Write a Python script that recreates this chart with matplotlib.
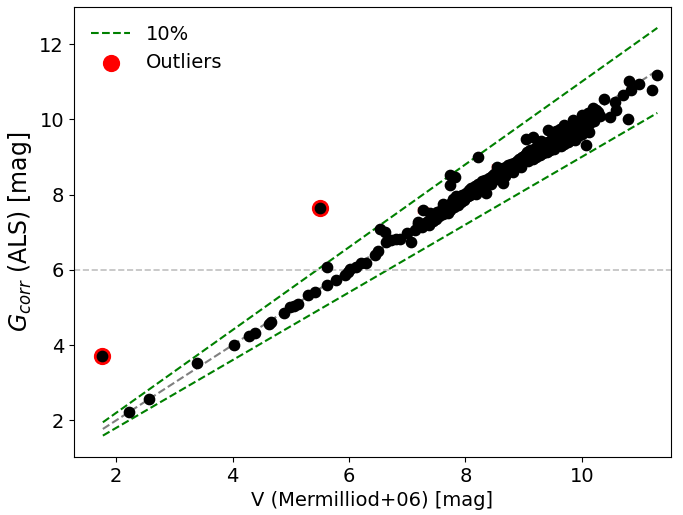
import numpy as np
from matplotlib import pyplot as plt

# V from Mermilliod+06 vs corrected Gaia G (ALS)
v_mag = [2.22, 2.56, 3.38, 4.03, 4.28, 4.38, 4.62, 4.66, 4.88, 4.99, 5.05, 5.12, 5.30, 5.42,
         5.62, 5.62, 5.77, 5.93, 5.98, 6.02, 6.12, 6.21, 6.29, 6.44, 6.50, 6.53, 6.62, 6.63,
         6.73, 6.80, 6.87, 6.99, 7.07, 7.13, 7.19, 7.19,
         7.25, 7.30, 7.35, 7.38, 7.42, 7.45, 7.48, 7.50, 7.52, 7.55, 7.58, 7.60, 7.62, 7.65,
         7.68, 7.70, 7.72, 7.74, 7.76, 7.78, 7.80, 7.82, 7.85, 7.88, 7.90, 7.92, 7.95, 7.97,
         7.99, 7.73, 7.82, 7.73, 8.21, 7.40, 7.62, 7.84,
         8.02, 8.04, 8.06, 8.08, 8.10, 8.12, 8.14, 8.16, 8.18, 8.20, 8.22, 8.24, 8.26, 8.28,
         8.30, 8.32, 8.34, 8.36, 8.38, 8.40, 8.42, 8.44, 8.46, 8.48, 8.50, 8.52, 8.54, 8.56,
         8.58, 8.60, 8.62, 8.64, 8.65, 8.66, 8.68, 8.70, 8.72, 8.74, 8.76, 8.78, 8.80, 8.82,
         8.84, 8.86, 8.88, 8.90, 8.92, 8.94, 8.96, 8.98,
         9.00, 9.02, 9.04, 9.05, 9.06, 9.08, 9.10, 9.12, 9.14, 9.16, 9.16, 9.18, 9.20, 9.22,
         9.24, 9.26, 9.28, 9.30, 9.32, 9.34, 9.36, 9.38, 9.40, 9.42, 9.42, 9.44, 9.46, 9.48,
         9.50, 9.52, 9.54, 9.56, 9.58, 9.60, 9.62, 9.64, 9.66, 9.68, 9.70, 9.72, 9.74, 9.76,
         9.78, 9.80, 9.82, 9.84, 9.86, 9.88, 9.90, 9.92, 9.94, 9.96, 9.98, 10.00, 10.02, 10.04,
         10.06, 10.08, 10.10, 10.14, 10.16, 10.20, 10.22, 10.25, 10.28, 10.31,
         9.55, 9.70, 9.85, 10.00, 10.10, 10.20, 9.30, 9.62,
         10.39, 10.57, 10.59, 10.71, 10.79, 10.85, 10.98, 11.20, 11.30]
g_corr = [2.23, 2.57, 3.52, 3.99, 4.23, 4.31, 4.57, 4.60, 4.85, 5.01, 5.05, 5.10, 5.32, 5.40,
          6.08, 5.59, 5.72, 5.86, 5.94, 6.02, 6.08, 6.17, 6.17, 6.39, 6.50, 7.08, 7.01, 6.74,
          6.79, 6.83, 6.81, 6.97, 6.74, 7.05, 7.23, 7.27,
          7.15, 7.25, 7.30, 7.20, 7.38, 7.30, 7.45, 7.35, 7.55, 7.42, 7.50, 7.62, 7.48, 7.58,
          7.66, 7.50, 7.70, 7.60, 7.78, 7.88, 7.68, 7.75, 7.85, 7.72, 7.92, 7.80, 7.98, 7.85,
          7.92, 8.52, 8.47, 8.25, 9.00, 7.52, 7.74, 7.96,
          8.05, 7.95, 8.12, 8.00, 8.18, 8.05, 8.10, 8.22, 8.02, 8.15, 8.28, 8.12, 8.20, 8.35,
          8.25, 8.18, 8.40, 8.03, 8.30, 8.45, 8.35, 8.28, 8.50, 8.38, 8.55, 8.42, 8.48, 8.60,
          8.45, 8.62, 8.52, 8.70, 8.30, 8.58, 8.50, 8.72, 8.62, 8.78, 8.65, 8.82, 8.70, 8.60,
          8.85, 8.75, 8.90, 8.80, 8.95, 8.85, 8.72, 9.00,
          8.88, 9.05, 8.95, 9.49, 9.12, 8.90, 9.02, 9.18, 9.05, 9.54, 8.95, 9.22, 9.10, 9.00,
          9.28, 9.15, 9.05, 9.32, 9.20, 9.10, 9.38, 9.25, 9.12, 9.71, 9.40, 9.30, 9.18, 9.45,
          9.35, 9.22, 9.50, 9.40, 9.28, 9.55, 9.45, 9.30, 9.60, 9.48, 9.35, 9.65, 9.52, 9.40,
          9.70, 9.58, 9.45, 9.75, 9.62, 9.45, 9.80, 9.68, 9.55, 9.85, 9.72, 9.60, 9.90, 9.78,
          9.95, 9.33, 9.85, 10.00, 9.92, 10.05, 9.96, 10.24, 10.20, 10.08,
          9.68, 9.85, 9.98, 10.12, 10.18, 10.30, 9.42, 9.75,
          10.55, 10.47, 10.24, 10.64, 10.02, 10.78, 10.95, 10.78, 11.17]

# stars whose V errors are large enough to show
err_v = [7.27, 8.55, 10.12, 10.48, 10.81]
err_g = [7.58, 8.72, 9.67, 10.07, 11.02]
err_x = [0.09, 0.10, 0.05, 0.06, 0.07]

out_v = [1.76, 5.50]
out_g = [3.71, 7.65]

plt.rcParams['font.size'] = 14
fig = plt.figure(figsize=(6.83, 5.15), dpi=100)
ax = fig.add_subplot(111)
fig.subplots_adjust(left=0.108, right=0.982, top=0.986, bottom=0.113)

xx = np.array([1.77, 11.3])
ax.plot(xx, xx * 1.1, '--', color='green', lw=1.5, label='10%')
ax.plot(xx, xx * 0.9, '--', color='green', lw=1.5)
ax.plot(xx, xx, '--', color='gray', lw=1.5)
ax.axhline(6, ls='--', color='silver', lw=1.2)

ax.scatter(out_v, out_g, s=130, color='red', zorder=3, label='Outliers')
ax.errorbar(err_v, err_g, xerr=err_x, fmt='none', ecolor='red', capsize=2.5, lw=1, zorder=3)
ax.scatter(v_mag + err_v + out_v, g_corr + err_g + out_g, s=55, color='black', zorder=4)

ax.set_xlim(1.27, 11.53)
ax.set_ylim(1.03, 12.98)
ax.set_xlabel('V (Mermilliod+06) [mag]')
ax.set_ylabel(r'$G_{corr}$ (ALS) [mag]', fontsize=17)
ax.legend(loc='upper left', frameon=False)

plt.savefig('out.png')
